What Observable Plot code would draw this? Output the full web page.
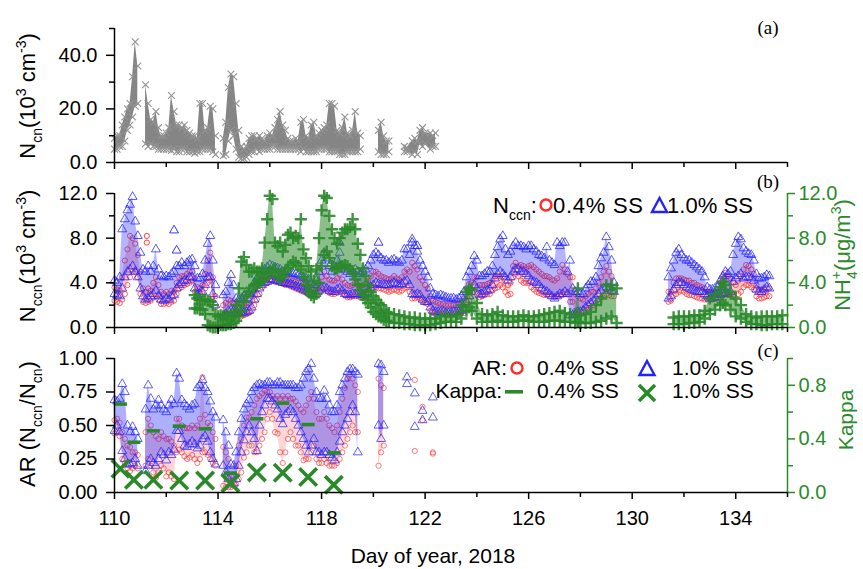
<!DOCTYPE html>
<html><head><meta charset="utf-8">
<script src="https://cdn.jsdelivr.net/npm/d3@7"></script>
<script src="https://cdn.jsdelivr.net/npm/@observablehq/plot@0.6"></script>
<style>
html,body{margin:0;padding:0;background:#fff;}
#wrap{position:relative;width:863px;height:569px;overflow:hidden;background:#fff;}
#wrap > svg{position:absolute;left:0;}
</style></head><body><div id="wrap"></div>
<script>
// ---------- DATA ----------
// Panel (a): N_cn envelope (10^3 cm^-3)
const ncnDay = [110,110.1,110.2,110.3,110.4,110.5,110.6,110.7,110.8,110.9,
 111.2,111.3,111.4,111.5,111.6,111.7,111.8,111.9,112,112.1,112.2,112.3,112.4,112.5,112.6,112.7,112.8,112.9,113,113.1,113.2,113.3,113.4,113.5,113.6,113.7,113.8,113.9,
 114.2,114.3,114.4,114.5,114.6,114.7,114.8,114.9,115,115.1,115.2,115.3,115.4,115.5,115.6,115.7,115.8,115.9,116,116.1,116.2,116.3,116.4,116.5,116.6,116.7,116.8,116.9,117,117.1,117.2,117.3,117.4,117.5,117.6,117.7,117.8,117.9,118,118.1,118.2,118.3,118.4,118.5,118.6,118.7,118.8,118.9,119,119.1,119.2,119.3,119.4,119.5,
 120.2,120.3,120.4,120.5,120.6, 121.2,121.3, 121.5,121.6,121.7, 121.8,121.9,122, 122.2,122.3,122.4];
const ncnLo = [5,5,6,6,8,12,14,17,21,22,
 7,6,7,6,6,5,5,5,5,5,4.5,5,4,4,5,5,4,4,4,3.5,4,4,5,5,5,5,4,3,
 2.5,3,8,12,10,5,2,1.5,1.5,2,3,4,4,5,4,5,5,5,5,6,6,5,5,5,5,5,5,5,5,5,4,5,4,4,4,4,4,5,5,5,5,4,4,4,4,3,3,3,4,4,4,4,4,5,
 4,3,3,3,4, 4,4, 3,4,3, 7,6,7, 5,6,6];
const ncnHi = [9,10,10,14,17,20,22,32,45,36,
 29,22,16,15,19,13,10,10,11,13,25,19,14,14,13,14,12,11,10,10,9,22,22,12,13,21,20,10,
 9,15,28,33,32,22,12,6,5,6,9,10,10,9,10,9,8,10,11,10,13,16,19,14,12,9,8,8,9,8,15,16,10,9,14,15,10,11,12,13,14,22,22,21,12,11,13,17,11,10,12,19,11,10,
 12,15,10,8,8, 6,5.5, 8,9,8, 12,13,11, 11,10,11];

// Panel (b): N_ccn envelopes (10^3 cm^-3) at 1.0% SS and 0.4% SS
const ccnDay = [110,110.1,110.2,110.3,110.4,110.5,110.6,110.7,110.8,110.9,111,111.1,111.2,111.3,111.4,111.5,111.6,111.7,111.8,111.9,112,112.1,112.2,112.3,112.4,112.5,112.6,112.7,112.8,112.9,113,113.1,113.2,113.3,113.4,113.5,113.6,113.7,113.8,113.9,
 114.2,114.3,114.4,114.5,114.6,114.7,114.8,114.9,
 115,115.1,115.2,115.3,115.4,115.5,115.6,115.7,115.8,115.9,
 116,116.1,116.2,116.3,116.4,116.5,116.6,116.7,116.8,116.9,
 117,117.1,117.2,117.3,117.4,117.5,117.6,117.7,117.8,117.9,
 118,118.1,118.2,118.3,118.4,118.5,118.6,118.7,118.8,118.9,
 119,119.1,119.2,119.3,119.4,119.5,119.6,119.7,119.8,119.9,
 120,120.1,120.2,120.3,120.4,120.5,120.6,120.7,120.8,120.9,
 121,121.1,121.2,121.3,121.4,121.5,121.6,121.7,121.8,121.9,
 122,122.1,122.2,122.3,122.4,122.5,122.6,122.7,122.8,122.9,
 123,123.1,123.2,123.3,123.4,123.5,123.6,123.7,123.8,123.9,
 124,124.1,124.2,124.3,124.4,124.5,124.6,124.7,124.8,124.9,
 125,125.1,125.2,125.3,125.4,125.5,125.6,125.7,125.8,125.9,
 126,126.1,126.2,126.3,126.4,126.5,126.6,126.7,126.8,126.9,
 127,127.1,127.2,127.3,127.4,127.5,127.6,127.7,127.8,127.9,
 128,128.1,128.2,128.3,128.4,128.5,128.6,128.7,128.8,128.9,
 129,129.1,129.2,129.3,
 131.4,131.5,131.6,131.7,131.8,131.9,
 132,132.1,132.2,132.3,132.4,132.5,132.6,132.7,132.8,132.9,
 133,133.1,133.2,133.3,133.4,133.5,133.6,133.7,133.8,133.9,
 134,134.1,134.2,134.3,134.4,134.5,134.6,134.7,134.8,134.9,
 135,135.1,135.2,135.3];
const ccn10Lo = [3.0,2.9,2.8,3.5,4.5,5.0,5.2,5.5,5.0,4.5,3.5,2.8,2.5,2.6,2.8,3.0,3.3,2.8,2.5,2.4,2.6,2.5,2.8,2.9,3.5,3.8,4.0,4.2,4.2,4.5,4.5,3.5,2.9,3.0,3.2,3.8,4.5,4.5,3.0,2.0,
 1.0,1.2,1.5,1.6,1.5,1.3,1.2,1.3,
 1.3,1.4,1.5,1.8,2.5,3.0,3.5,3.8,4.0,4.1,
 4.3,4.3,4.2,4.2,4.1,4.0,4.0,3.9,3.9,3.8,
 3.7,3.6,3.5,3.4,3.3,3.2,3.0,2.9,3.0,3.3,
 3.5,3.6,3.5,3.3,3.2,3.2,3.4,3.5,3.3,3.0,
 2.9,2.9,3.0,3.0,3.0,2.9,2.9,3.0,3.2,3.6,
 3.8,4.0,3.9,3.8,3.8,3.8,3.8,3.9,4.0,3.9,
 3.8,3.9,4.1,4.2,3.8,3.0,2.9,3.0,2.9,2.5,
 2.3,2.3,1.8,1.5,1.4,1.4,1.4,1.4,1.3,1.3,
 1.3,1.4,1.4,1.4,1.5,1.6,2.3,2.8,3.2,3.8,
 3.5,2.9,3.0,3.2,3.3,3.4,3.8,4.4,4.8,5.0,
 4.8,4.5,4.2,4.5,5.0,5.2,5.2,5.0,5.0,4.8,
 4.6,4.2,4.1,4.0,3.8,3.5,3.3,3.2,3.0,2.8,
 2.6,2.8,3.0,3.0,3.2,3.0,1.1,1.1,1.2,1.4,
 1.4,1.5,1.8,2.0,2.2,2.4,2.6,3.0,3.3,3.5,
 3.6,3.5,3.3,3.2,
 2.6,2.8,3.4,3.8,4.0,4.0,
 3.8,3.6,3.5,3.4,3.3,3.2,3.2,3.2,3.0,2.8,
 2.6,2.6,2.7,2.7,2.9,3.0,3.1,3.0,3.2,4.1,
 4.4,4.6,4.8,4.4,4.5,4.5,4.4,4.2,3.4,3.2,
 3.2,3.4,3.6,3.5];
const ccn10Hi = [4.2,4.0,4.5,8.8,9.7,10.5,11.0,11.7,9.5,8.2,6.7,5.2,5.0,5.5,5.0,5.5,7.0,5.2,4.6,4.5,4.6,4.5,4.8,5.0,5.5,5.5,5.8,5.5,5.8,6.0,6.1,5.5,4.4,4.4,4.8,6.0,7.5,8.2,6.0,3.8,
 2.9,3.2,4.0,4.7,3.8,2.6,2.5,2.6,
 2.8,3.2,3.0,3.4,4.0,4.4,4.6,5.0,5.2,5.4,
 5.6,5.5,5.4,5.3,5.2,5.0,5.0,5.0,4.9,4.8,
 4.8,4.7,4.6,4.5,4.4,4.3,4.0,3.8,4.2,5.0,
 6.0,6.7,6.2,5.5,5.0,5.5,6.0,6.7,5.5,5.2,
 5.0,4.8,5.0,5.2,5.0,4.8,5.0,5.2,5.5,6.0,
 6.5,6.7,6.5,6.2,6.0,6.0,5.8,6.0,6.1,5.9,
 5.8,6.0,7.0,7.0,6.5,7.9,7.3,6.8,6.0,5.5,
 5.0,4.5,3.5,3.0,2.9,2.8,2.9,2.8,2.7,2.6,
 2.6,2.6,2.5,2.6,2.8,3.2,4.5,5.0,5.5,6.4,
 6.0,4.6,4.6,4.8,5.0,5.0,5.5,6.5,7.2,7.9,
 8.2,7.0,6.5,6.8,7.3,7.6,7.3,7.3,7.2,7.0,
 7.3,7.3,7.0,6.8,6.5,6.4,6.2,7.2,6.0,5.8,
 5.6,7.6,7.3,7.6,7.6,5.0,6.0,3.5,3.2,3.2,
 3.0,3.0,3.5,3.8,4.1,4.1,4.5,5.5,6.2,6.7,
 8.1,7.2,6.0,4.0,
 4.5,5.3,6.0,6.7,7.0,6.5,
 6.2,6.0,6.0,5.8,5.6,5.4,5.2,5.0,4.5,3.6,
 3.4,3.4,3.5,3.6,4.2,4.6,5.0,4.8,5.0,6.5,
 7.5,8.1,7.9,7.1,6.8,6.6,6.5,6.0,4.8,4.4,
 4.4,4.5,4.7,4.6];
const ccn04Lo = [2.4,2.3,2.2,2.5,3.0,3.8,4.5,5.0,5.0,4.5,3.0,2.3,2.2,2.3,2.4,2.7,2.8,2.5,2.1,2.1,2.2,2.1,2.3,2.4,3.0,3.5,3.6,3.8,3.9,4.0,4.2,3.2,2.8,2.8,3.0,3.5,4.0,4.2,2.8,1.8,
 0.9,1.0,1.2,1.3,1.2,1.1,1.0,1.0,
 1.1,1.2,1.3,1.5,2.0,2.5,3.0,3.6,3.9,4.0,
 4.2,4.2,4.1,4.1,4.0,3.9,3.8,3.8,3.7,3.6,
 3.5,3.4,3.3,3.2,3.1,3.0,2.9,2.8,2.9,3.1,
 3.3,3.4,3.3,3.1,3.0,3.0,3.1,3.2,3.1,2.9,
 2.7,2.7,2.8,2.8,2.8,2.7,2.7,2.8,3.0,3.4,
 3.5,3.6,3.5,3.5,3.4,3.3,3.2,3.3,3.4,3.3,
 3.2,3.3,3.5,3.6,3.2,2.6,2.6,2.7,2.6,2.3,
 2.2,2.1,1.5,1.3,1.2,1.2,1.2,1.2,1.1,1.1,
 1.1,1.2,1.2,1.2,1.3,1.3,2.0,2.4,2.8,3.3,
 3.0,2.7,2.8,2.9,3.0,3.0,3.3,3.5,3.6,3.8,
 3.6,3.2,2.9,3.0,4.5,4.8,4.6,4.2,4.0,4.0,
 4.0,3.6,3.4,3.2,3.1,3.0,2.9,2.9,2.8,2.8,
 2.7,2.8,2.9,2.9,3.0,3.0,2.3,2.3,1.5,1.2,
 1.2,1.3,1.5,1.7,1.8,2.0,2.2,2.5,2.7,2.9,
 3.0,2.9,2.8,2.8,
 2.3,2.4,2.9,3.0,3.2,3.3,
 3.2,3.0,2.9,2.9,2.8,2.7,2.6,2.6,2.5,2.5,
 2.5,2.5,2.6,2.6,2.7,2.9,3.0,2.9,2.9,2.8,
 2.6,3.0,3.2,3.6,3.8,3.8,3.6,3.4,2.8,2.6,
 2.6,2.7,2.8,2.8];
const ccn04Hi = [3.6,3.4,3.3,4.5,6.0,7.0,8.2,8.0,7.5,6.5,5.0,3.5,3.2,3.5,3.3,4.0,4.5,3.8,3.2,3.0,3.2,3.0,3.3,3.2,4.0,4.5,4.6,4.6,4.8,5.0,5.0,4.4,3.6,3.5,3.8,4.8,6.0,6.7,4.5,2.8,
 2.0,2.2,2.5,2.4,2.2,2.0,1.9,2.0,
 2.0,2.2,2.2,2.8,3.3,3.8,4.2,4.4,4.6,4.7,
 4.8,4.8,4.7,4.6,4.5,4.4,4.4,4.3,4.3,4.2,
 4.1,4.0,4.0,3.9,3.8,3.7,3.5,3.4,3.6,4.0,
 4.5,5.0,4.6,4.3,4.2,4.2,4.4,4.8,4.3,4.0,
 3.8,3.7,3.8,4.0,3.8,3.7,3.8,3.9,4.2,4.6,
 5.0,5.0,4.8,4.6,4.5,4.4,4.3,4.4,4.6,4.4,
 4.3,4.5,5.0,5.2,5.0,5.8,5.5,5.2,4.5,4.2,
 3.8,3.5,2.8,2.4,2.3,2.2,2.1,2.1,2.0,2.0,
 2.0,2.0,2.0,2.1,2.2,2.6,3.5,3.9,4.0,4.5,
 4.5,3.8,3.8,3.8,3.9,4.0,4.2,4.6,4.6,4.6,
 4.6,4.2,3.8,4.0,5.5,5.8,5.5,5.6,5.5,5.3,
 5.5,5.6,5.4,5.2,5.0,4.8,4.6,4.6,4.5,4.3,
 4.2,4.4,5.0,5.6,5.2,4.8,4.5,4.5,3.0,2.8,
 2.6,2.5,2.8,3.0,3.2,3.2,3.5,4.0,4.5,5.0,
 5.5,5.0,4.6,3.6,
 3.2,3.2,4.0,4.4,4.4,4.4,
 4.3,4.2,4.2,4.0,4.0,3.8,3.7,3.6,3.5,3.2,
 3.2,3.1,3.1,3.2,4.0,4.4,4.9,4.6,4.4,4.0,
 3.8,4.2,4.6,5.2,5.6,5.5,5.2,4.8,3.8,3.4,
 3.4,3.4,3.5,3.5];
const ccn10OutDay = [112.3,112.4,118.7,120.2,121.5,121.7];
const ccn10OutVal = [8.7,6.9,7.6,7.6,7.6,7.3];
const ccn04OutDay = [111.25,111.25];
const ccn04OutVal = [8.2,7.6];

// Panel (b): NH4+ envelope (ug/m3)
const nh4Day = [113.1,113.2,113.3,113.4,113.5,113.6,113.7,113.8,113.9,114,114.1,114.2,114.3,114.4,114.5,114.6,114.7,114.8,114.9,
 115,115.1,115.2,115.3,115.4,115.5,115.6,115.7,115.8,115.9,116,116.1,116.2,116.3,116.4,116.5,116.6,116.7,116.8,116.9,
 117,117.1,117.2,117.3,117.4,117.5,117.6,117.7,117.8,117.9,118,118.1,118.2,118.3,118.4,118.5,118.6,118.7,118.8,118.9,
 119,119.1,119.2,119.3,119.4,119.5,119.6,119.7,119.8,119.9,120,120.1,120.2,120.3,120.4,120.5,
 120.6,120.8,121,121.2,121.4,121.6,121.8,122,122.2,122.4,122.6,122.8,123,123.2,123.4,123.6,123.7,123.8,
 124,124.2,124.4,124.6,124.8,125,125.2,125.4,125.6,125.8,126,126.2,126.4,126.6,126.8,127,127.2,127.4,127.6,127.8,127.9,
 128,128.2,128.4,128.6,128.8,129,129.2,129.4,
 131.6,131.8,132,132.2,132.4,132.6,132.8,133,133.2,133.4,133.5,133.6,133.8,134,134.2,134.4,134.6,134.8,135,135.2,135.4,135.6,135.8];
const nh4Lo = [1.7,1.7,1.6,1.6,1.2,0.2,0.1,0.0,0.0,0.1,0.2,0.2,0.2,0.3,0.3,0.4,0.6,1.0,1.5,
 2.3,2.8,3.2,3.5,3.8,3.9,4.0,4.2,4.4,4.8,5.0,5.0,5.2,4.6,4.4,4.6,5.0,5.3,5.6,5.9,
 5.8,5.5,5.2,4.5,3.8,3.2,2.9,2.7,3.0,4.0,5.5,6.5,6.8,6.2,5.5,5.2,5.3,5.4,5.5,5.6,
 5.5,5.2,4.8,4.3,3.8,3.3,2.9,2.5,2.2,1.8,1.4,1.2,1.0,0.9,0.7,0.6,
 0.5,0.4,0.4,0.3,0.3,0.2,0.2,0.2,0.2,0.3,0.4,0.5,0.5,0.5,0.8,1.5,1.8,1.5,
 0.8,0.5,0.5,0.5,0.6,0.5,0.5,0.5,0.6,0.6,0.6,0.5,0.5,0.5,0.6,0.6,0.6,0.5,0.5,0.4,0.5,
 0.4,0.4,0.4,0.5,0.6,0.8,1.0,0.4,
 0.3,0.3,0.3,0.4,0.4,0.5,0.8,1.2,1.6,2.0,2.2,2.0,1.6,1.0,0.8,0.5,0.3,0.3,0.2,0.2,0.3,0.3,0.3];
const nh4Hi = [2.9,2.6,2.5,2.5,2.5,2.4,2.3,2.0,1.2,1.0,1.1,1.0,1.1,1.0,1.1,1.2,2.0,3.5,5.9,
 6.3,5.6,5.0,5.0,5.3,5.0,5.0,5.3,7.6,9.7,11.8,11.5,7.6,7.3,7.6,6.8,7.4,8.3,8.5,8.0,
 8.2,8.0,9.7,7.0,6.2,5.5,5.0,4.2,5.2,8.0,10.5,11.8,11.6,10.0,8.8,8.0,7.5,8.0,8.5,8.8,
 8.8,9.0,9.7,8.8,7.5,6.5,5.3,4.6,3.8,3.2,2.8,2.5,2.2,2.0,1.6,1.4,
 1.3,1.2,1.1,1.0,0.9,0.9,0.8,0.8,0.8,0.8,1.0,1.1,1.0,1.1,2.0,3.2,3.5,3.4,
 2.2,1.2,1.1,1.2,1.4,1.1,1.0,1.0,1.0,1.1,1.0,1.0,1.1,1.2,1.3,1.4,1.5,1.3,1.2,1.1,3.5,
 1.1,1.2,1.4,2.0,2.6,3.8,3.8,3.5,
 0.9,1.0,1.0,1.0,1.1,1.1,1.5,2.6,3.0,3.6,4.1,3.8,3.2,2.6,2.0,1.2,1.0,0.9,1.0,1.0,1.0,1.0,1.1];

// Panel (c): activation ratio envelopes
const arDay = [110,110.1,110.2,110.3,110.4,110.5,110.6,110.7,110.8,110.9,
 111.2,111.3,111.4,111.5,111.6,111.7,111.8,111.9,112,112.1,112.2,112.3,112.4,112.5,112.6,112.7,112.8,112.9,113,113.1,113.2,113.3,113.4,113.5,113.6,113.7,113.8,113.9,
 114.2,114.3,114.4,114.5,114.6,114.7,114.8,114.9,
 115,115.1,115.2,115.3,115.4,115.5,115.6,115.7,115.8,115.9,
 116,116.1,116.2,116.3,116.4,116.5,116.6,116.7,116.8,116.9,
 117,117.1,117.2,117.3,117.4,117.5,117.6,117.7,117.8,117.9,
 118,118.1,118.2,118.3,118.4,118.5,118.6,118.7,118.8,118.9,
 119,119.1,119.2,119.3,119.4,
 120.2,120.3,120.4, 121.3, 121.6, 121.9, 122.3];
const ar10Lo = [0.46,0.50,0.45,0.31,0.25,0.21,0.21,0.22,0.25,0.20,
 0.16,0.20,0.25,0.22,0.20,0.25,0.30,0.28,0.24,0.30,0.28,0.32,0.46,0.46,0.40,0.35,0.34,0.36,0.38,0.36,0.33,0.35,0.40,0.42,0.38,0.30,0.25,0.21,
 0.20,0.15,0.10,0.06,0.07,0.10,0.20,0.30,
 0.39,0.45,0.50,0.45,0.40,0.31,0.50,0.60,0.65,0.70,
 0.70,0.68,0.65,0.62,0.55,0.51,0.58,0.60,0.62,0.60,
 0.55,0.50,0.45,0.40,0.35,0.30,0.35,0.40,0.30,0.30,
 0.28,0.30,0.30,0.28,0.26,0.24,0.30,0.38,0.45,0.50,
 0.55,0.60,0.65,0.60,0.30,
 0.50,0.40,0.50, 0.81, 0.49, 0.54, 0.56];
const ar10Hi = [0.69,0.68,0.70,0.81,0.75,0.50,0.45,0.49,0.45,0.40,
 0.62,0.80,0.70,0.62,0.65,0.69,0.65,0.62,0.60,0.65,0.69,0.66,0.89,0.85,0.69,0.66,0.64,0.62,0.65,0.66,0.78,0.80,0.84,0.78,0.75,0.68,0.60,0.56,
 0.54,0.45,0.35,0.21,0.20,0.30,0.45,0.55,
 0.62,0.66,0.69,0.75,0.78,0.80,0.81,0.80,0.80,0.82,
 0.82,0.80,0.80,0.82,0.82,0.80,0.80,0.80,0.80,0.80,
 0.78,0.78,0.80,0.85,0.90,0.92,0.96,0.85,0.75,0.70,
 0.70,0.76,0.70,0.65,0.60,0.60,0.65,0.75,0.80,0.85,
 0.90,0.92,0.92,0.90,0.88,
 0.96,0.95,0.90, 0.86, 0.74, 0.61, 0.71];
const ar04Lo = [0.44,0.45,0.42,0.25,0.22,0.18,0.16,0.18,0.20,0.18,
 0.20,0.25,0.20,0.15,0.11,0.15,0.20,0.18,0.12,0.15,0.12,0.10,0.30,0.32,0.30,0.27,0.25,0.26,0.28,0.25,0.22,0.25,0.30,0.30,0.28,0.25,0.22,0.20,
 0.05,0.04,0.04,0.04,0.05,0.06,0.10,0.15,
 0.26,0.30,0.35,0.35,0.30,0.30,0.35,0.40,0.45,0.55,
 0.60,0.55,0.45,0.44,0.30,0.22,0.30,0.40,0.45,0.40,
 0.35,0.35,0.30,0.24,0.25,0.25,0.30,0.35,0.25,0.22,
 0.22,0.25,0.22,0.20,0.20,0.20,0.22,0.25,0.30,0.35,
 0.40,0.45,0.50,0.45,0.45,
 0.20,0.30,0.35, null, 0.31, 0.54, 0.29];
const ar04Hi = [0.54,0.55,0.52,0.45,0.40,0.35,0.34,0.30,0.30,0.28,
 0.45,0.55,0.50,0.45,0.42,0.40,0.45,0.42,0.40,0.40,0.38,0.35,0.55,0.55,0.50,0.48,0.48,0.48,0.50,0.48,0.50,0.55,0.86,0.58,0.52,0.50,0.45,0.40,
 0.34,0.30,0.25,0.12,0.12,0.20,0.35,0.40,
 0.50,0.56,0.56,0.60,0.65,0.70,0.72,0.74,0.76,0.75,
 0.75,0.72,0.70,0.72,0.70,0.72,0.70,0.72,0.70,0.70,
 0.68,0.65,0.62,0.60,0.65,0.70,0.75,0.70,0.60,0.55,
 0.55,0.60,0.55,0.50,0.48,0.45,0.50,0.60,0.70,0.78,
 0.85,0.88,0.85,0.80,0.75,
 0.85,0.80,0.78, null, 0.84, 0.64, 0.30];

// Panel (c): daily kappa
const kappaDay = [110.23,110.75,111.5,112.5,113.5,114.48,115.5,116.5,117.48,118.47];
const kappa04 = [0.66,0.375,0.46,0.495,0.475,0.145,0.55,0.667,0.507,0.296];
const kappa10 = [0.177,0.095,0.095,0.09,0.09,0.07,0.15,0.147,0.115,0.057];

// axis ticks
const xMajor = [110,114,118,122,126,130,134];
const xMinor = [112,116,120,124,128,132,136];

// ---------- helpers ----------
[[ncnDay,ncnLo,ncnHi],[ccnDay,ccn10Lo,ccn10Hi,ccn04Lo,ccn04Hi],[nh4Day,nh4Lo,nh4Hi],[arDay,ar10Lo,ar10Hi,ar04Lo,ar04Hi]].forEach((g,k)=>{
  g.forEach(a=>{ if(a.length!==g[0].length) console.error("length mismatch group",k,a.length,g[0].length); });
});
function band(days, lo, hi) {
  const rows = [];
  for (let i = 0; i < days.length; i++) {
    if (i > 0 && days[i] - days[i-1] > 0.25) rows.push({day: (days[i]+days[i-1])/2, lo: null, hi: null});
    rows.push({day: days[i], lo: lo[i], hi: hi[i]});
  }
  return rows;
}
function edges(days, lo, hi) {
  const pts = [];
  days.forEach((d,i) => {
    if (lo[i] != null) pts.push({day: d, v: lo[i]});
    if (hi[i] != null) pts.push({day: d, v: hi[i]});
  });
  return pts;
}
function pts(days, vals) { return days.map((d,i) => ({day: d, v: vals[i]})); }

const FONT = "'Liberation Sans', Arial, Helvetica, sans-serif";
const RED = "#ff2b2b", BLUE = "#2222ff", GREEN = "#2a8a2a", GRAY = "#858585";
const W = 863, ML = 114, MR = 76;
const wrap = document.getElementById("wrap");

function xAxes(labels) {
  return [
    Plot.axisX({ticks: xMajor, tickSize: 7, tickPadding: 11, strokeWidth: 1.5, fontSize: 20,
      tickFormat: labels ? (d => String(d)) : (() => ""), label: null}),
    Plot.axisX({ticks: xMinor, tickSize: 5, strokeWidth: 1.5, tickFormat: () => "", label: null}),
    Plot.ruleY([0], {strokeWidth: 1.5})
  ];
}
function base(h, mb, ydom, marks) {
  return Plot.plot({
    width: W, height: h, marginLeft: ML, marginRight: MR, marginTop: 28, marginBottom: mb,
    x: {domain: [110, 136]},
    y: {domain: ydom},
    style: {fontFamily: FONT, fontSize: "20px", color: "black", background: "transparent", overflow: "visible"},
    marks
  });
}

// ---------- panel (a) ----------
const svgA = base(175, 13, [0, 50], [
  Plot.areaY(band(ncnDay, ncnLo, ncnHi), {x: "day", y1: "lo", y2: "hi", fill: GRAY, fillOpacity: 1}),
  Plot.dot(edges(ncnDay, ncnLo, ncnHi), {x: "day", y: "v", symbol: "times", r: 3.2, stroke: "#939393", strokeWidth: 1.1}),
  Plot.ruleX([110], {strokeWidth: 1.5}),
  Plot.axisY({ticks: [0, 20, 40], tickFormat: d => d.toFixed(1), tickSize: 8, tickPadding: 9, strokeWidth: 1.5, fontSize: 20, label: null}),
  Plot.axisY({ticks: [10, 30, 50], tickFormat: () => "", tickSize: 5, strokeWidth: 1.5, label: null}),
  ...xAxes(false)
]);
svgA.style.top = "0px";
wrap.appendChild(svgA);

// ---------- panel (b) ----------
const svgB = base(175, 13, [0, 12], [
  Plot.areaY(band(ccnDay, ccn04Lo, ccn04Hi), {x: "day", y1: "lo", y2: "hi", fill: RED, fillOpacity: 0.25}),
  Plot.dot(edges(ccnDay, ccn04Lo, ccn04Hi), {x: "day", y: "v", symbol: "circle", r: 2.6, stroke: RED, strokeWidth: 0.9, strokeOpacity: 0.8}),
  Plot.dot(pts(ccn04OutDay, ccn04OutVal), {x: "day", y: "v", symbol: "circle", r: 2.6, stroke: RED, strokeWidth: 0.9}),
  Plot.areaY(band(ccnDay, ccn10Lo, ccn10Hi), {x: "day", y1: "lo", y2: "hi", fill: BLUE, fillOpacity: 0.34}),
  Plot.dot(edges(ccnDay, ccn10Lo, ccn10Hi), {x: "day", y: "v", symbol: "triangle", r: 3.3, stroke: BLUE, strokeWidth: 0.9, strokeOpacity: 0.85}),
  Plot.dot(pts(ccn10OutDay, ccn10OutVal), {x: "day", y: "v", symbol: "triangle", r: 3.3, stroke: BLUE, strokeWidth: 0.9}),
  Plot.areaY(band(nh4Day, nh4Lo, nh4Hi), {x: "day", y1: "lo", y2: "hi", fill: GREEN, fillOpacity: 0.55}),
  Plot.dot(edges(nh4Day, nh4Lo, nh4Hi), {x: "day", y: "v", symbol: "plus", r: 4, stroke: GREEN, strokeWidth: 2.4, strokeOpacity: 0.9}),
  Plot.ruleX([110], {strokeWidth: 1.5}),
  Plot.ruleX([136], {stroke: GREEN, strokeWidth: 1.5}),
  Plot.axisY({ticks: [0, 4, 8, 12], tickFormat: d => d.toFixed(1), tickSize: 8, tickPadding: 9, strokeWidth: 1.5, fontSize: 20, label: null}),
  Plot.axisY({ticks: [2, 6, 10], tickFormat: () => "", tickSize: 5, strokeWidth: 1.5, label: null}),
  Plot.axisY({anchor: "right", ticks: [0, 4, 8, 12], tickFormat: d => d.toFixed(1), tickSize: 7, tickPadding: 4, strokeWidth: 1.5, fontSize: 20, color: GREEN, label: null}),
  Plot.axisY({anchor: "right", ticks: [2, 6, 10], tickFormat: () => "", tickSize: 5, strokeWidth: 1.5, color: GREEN, label: null}),
  ...xAxes(false)
]);
svgB.style.top = "165px";
wrap.appendChild(svgB);

// ---------- panel (c) ----------
const dashSymbol = {draw(ctx) { ctx.moveTo(-6.5,-1.8); ctx.lineTo(6.5,-1.8); ctx.lineTo(6.5,1.8); ctx.lineTo(-6.5,1.8); ctx.closePath(); }};
const svgC = base(239, 77, [0, 1], [
  Plot.areaY(band(arDay, ar04Lo, ar04Hi), {x: "day", y1: "lo", y2: "hi", fill: RED, fillOpacity: 0.2}),
  Plot.dot(edges(arDay, ar04Lo, ar04Hi), {x: "day", y: "v", symbol: "circle", r: 2.6, stroke: RED, strokeWidth: 0.9, strokeOpacity: 0.7}),
  Plot.areaY(band(arDay, ar10Lo, ar10Hi), {x: "day", y1: "lo", y2: "hi", fill: BLUE, fillOpacity: 0.36}),
  Plot.dot(edges(arDay, ar10Lo, ar10Hi), {x: "day", y: "v", symbol: "triangle", r: 3.3, stroke: BLUE, strokeWidth: 0.9, strokeOpacity: 0.8}),
  Plot.dot(pts(kappaDay, kappa04), {x: "day", y: "v", symbol: dashSymbol, fill: GREEN, stroke: "none"}),
  Plot.dot(pts(kappaDay, kappa10), {x: "day", y: "v", symbol: "times", r: 8, stroke: GREEN, strokeWidth: 3.6}),
  Plot.ruleX([110], {strokeWidth: 1.5}),
  Plot.ruleX([136], {stroke: GREEN, strokeWidth: 1.5}),
  Plot.axisY({ticks: [0, 0.25, 0.5, 0.75, 1], tickFormat: d => d.toFixed(2), tickSize: 8, tickPadding: 9, strokeWidth: 1.5, fontSize: 20, label: null}),
  Plot.axisY({anchor: "right", ticks: [0, 0.4, 0.8], tickFormat: d => d.toFixed(1), tickSize: 7, tickPadding: 4, strokeWidth: 1.5, fontSize: 20, color: GREEN, label: null}),
  Plot.axisY({anchor: "right", ticks: [0.2, 0.6, 1.0], tickFormat: () => "", tickSize: 5, strokeWidth: 1.5, color: GREEN, label: null}),
  ...xAxes(true)
]);
svgC.style.top = "330px";
wrap.appendChild(svgC);

// ---------- overlay texts ----------
const ov = d3.select(wrap).append("svg").attr("width", W).attr("height", 569)
  .style("position", "absolute").style("top", "0px").style("left", "0px")
  .attr("font-family", FONT);

function rich(g, parts, size) {
  const t = g.append("text").attr("font-size", size);
  let shift = 0;
  for (const [s, kind, dx] of parts) {
    const target = kind === "sub" ? 0.32 * size : kind === "sup" ? -0.42 * size : 0;
    const ts = t.append("tspan").text(s).attr("dy", target - shift)
      .attr("font-size", kind === "n" ? size : Math.round(size * 0.64));
    if (dx) ts.attr("dx", dx);
    shift = target;
  }
  return t;
}
function vlabel(x, y, parts, size, color) {
  const g = ov.append("g").attr("transform", `translate(${x},${y}) rotate(-90)`).attr("fill", color || "black");
  rich(g, parts, size).attr("text-anchor", "middle");
}
vlabel(35, 96, [["N","n"],["cn","sub"],["(10","n"],["3","sup"],[" cm","n"],["-3","sup"],[")","n"]], 22);
vlabel(35, 256, [["N","n"],["ccn","sub"],["(10","n"],["3","sup"],[" cm","n"],["-3","sup"],[")","n"]], 22);
vlabel(35, 424, [["AR (N","n"],["ccn","sub"],["/N","n"],["cn","sub"],[")","n"]], 22);
vlabel(850, 255, [["NH","n"],["4","sub"],["+","sup",-8],["(μg/m","n"],["3","sup"],[")","n"]], 22, GREEN);
vlabel(853, 420, [["Kappa","n"]], 21, GREEN);

// panel letters
const serif = "'Liberation Serif', 'Times New Roman', serif";
[["(a)", 34], ["(b)", 188], ["(c)", 357]].forEach(([s, y]) =>
  ov.append("text").attr("x", 768).attr("y", y).attr("text-anchor", "middle")
    .attr("font-family", serif).attr("font-size", 19).text(s));

// x title
ov.append("text").attr("x", 433).attr("y", 563).attr("text-anchor", "middle").attr("font-size", 21).text("Day of year, 2018");

// legend (b)
const lb = ov.append("g").attr("transform", "translate(493,213)");
rich(lb, [["N","n"],["ccn","sub"],[":","n"]], 22);
ov.append("circle").attr("cx", 546).attr("cy", 205).attr("r", 5.5).attr("fill", "none").attr("stroke", RED).attr("stroke-width", 2.4);
ov.append("text").attr("x", 553).attr("y", 213).attr("font-size", 22).attr("textLength", 90).text("0.4% SS");
ov.append("path").attr("d", "M659.5,198 L667,212 L652,212 Z").attr("fill", "none").attr("stroke", BLUE).attr("stroke-width", 2.4);
ov.append("text").attr("x", 667).attr("y", 213).attr("font-size", 22).attr("textLength", 86).text("1.0% SS");

// legend (c)
ov.append("text").attr("x", 507).attr("y", 375).attr("text-anchor", "end").attr("font-size", 21).text("AR:");
ov.append("circle").attr("cx", 517).attr("cy", 368).attr("r", 5.5).attr("fill", "none").attr("stroke", RED).attr("stroke-width", 2.4);
ov.append("text").attr("x", 537).attr("y", 375).attr("font-size", 21).text("0.4% SS");
ov.append("path").attr("d", "M647,361 L654.5,375 L639.5,375 Z").attr("fill", "none").attr("stroke", BLUE).attr("stroke-width", 2.4);
ov.append("text").attr("x", 672).attr("y", 375).attr("font-size", 21).text("1.0% SS");
ov.append("text").attr("x", 502).attr("y", 398).attr("text-anchor", "end").attr("font-size", 21).text("Kappa:");
ov.append("rect").attr("x", 505).attr("y", 390).attr("width", 18).attr("height", 3.6).attr("fill", GREEN);
ov.append("text").attr("x", 537).attr("y", 398).attr("font-size", 21).text("0.4% SS");
ov.append("path").attr("d", "M639,385 L655,401 M655,385 L639,401").attr("stroke", GREEN).attr("stroke-width", 3.6);
ov.append("text").attr("x", 672).attr("y", 398).attr("font-size", 21).text("1.0% SS");
</script>
</body></html>
